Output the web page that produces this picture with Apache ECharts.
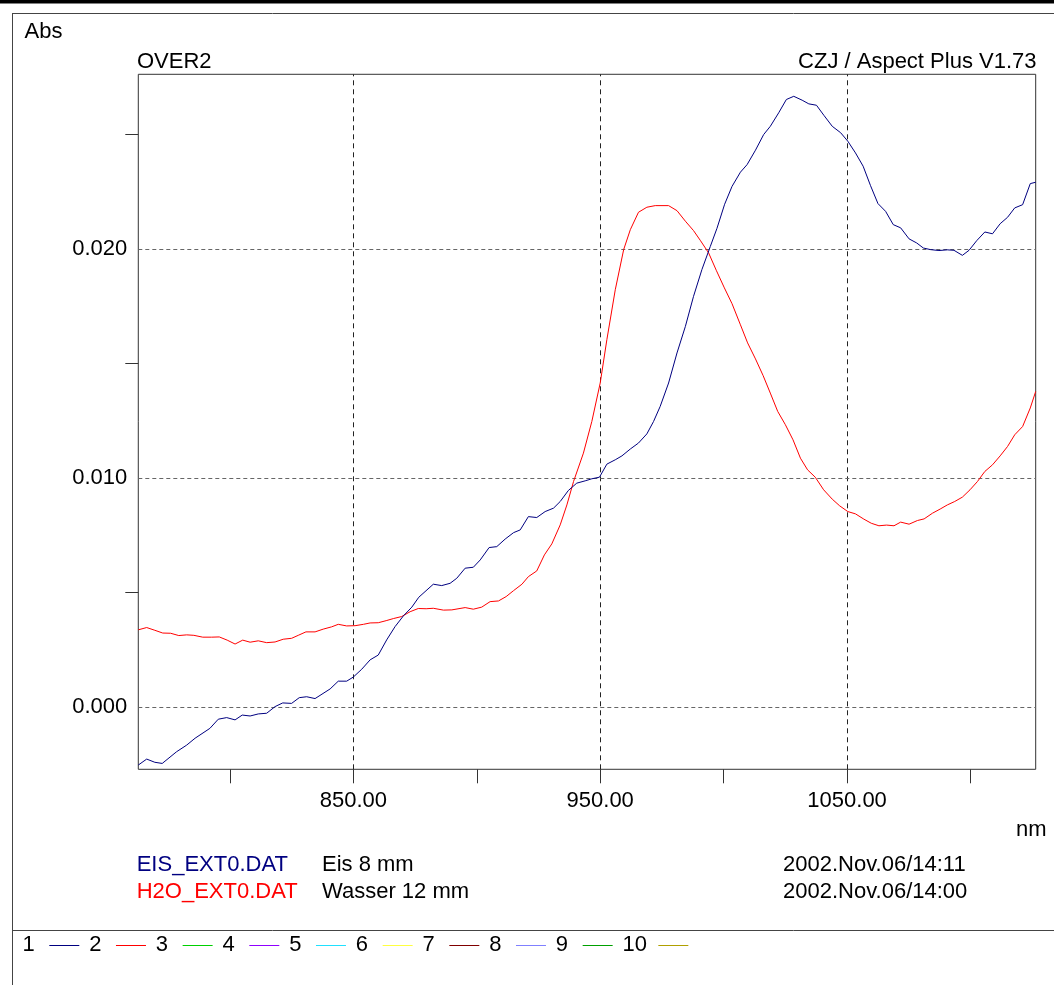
<!DOCTYPE html>
<html>
<head>
<meta charset="utf-8">
<script src="https://cdn.jsdelivr.net/npm/echarts@6/dist/echarts.min.js"></script>
<style>
html,body{margin:0;padding:0;background:#fff;}
#chart{width:1054px;height:985px;}
</style>
</head>
<body>
<div id="chart"></div>
<script>
// ---- data ----
const eisNm = [762.9,766.3,769.6,772.6,778.4,782.5,785.9,791.9,795.3,798.7,802.1,805.0,808.2,811.5,814.9,818.3,821.4,825.0,828.1,831.1,834.5,840.6,843.9,847.3,850.0,853.4,856.8,860.1,863.5,866.9,870.3,873.7,876.5,882.4,885.8,889.2,891.9,895.3,898.6,901.4,905.0,908.1,911.5,914.9,917.6,920.9,924.3,927.7,931.1,933.8,937.1,940.5,943.9,946.6,949.7,952.7,956.1,958.8,962.2,965.5,968.9,971.6,974.3,977.7,981.1,984.5,987.8,991.2,994.6,997.3,1000.4,1003.4,1006.8,1009.5,1012.9,1016.2,1018.9,1022.3,1025.4,1028.4,1031.8,1034.5,1037.6,1040.6,1044.0,1047.4,1050.3,1053.4,1056.5,1059.5,1062.5,1065.6,1068.7,1071.7,1075.1,1078.2,1080.9,1083.8,1087.2,1090.6,1093.3,1096.7,1099.4,1102.5,1105.8,1108.9,1112.0,1115.0,1117.9,1121.1,1124.2,1126.4];
const eisAbs = [-0.00252,-0.00226,-0.00240,-0.00245,-0.00194,-0.00165,-0.00135,-0.00092,-0.00052,-0.00045,-0.00055,-0.00034,-0.00038,-0.00029,-0.00026,0.00003,0.00019,0.00017,0.00042,0.00046,0.00038,0.00080,0.00114,0.00114,0.00132,0.00166,0.00207,0.00228,0.00294,0.00352,0.00399,0.00437,0.00480,0.00537,0.00531,0.00541,0.00563,0.00607,0.00611,0.00643,0.00697,0.00701,0.00734,0.00762,0.00774,0.00832,0.00828,0.00854,0.00869,0.00898,0.00946,0.00978,0.00988,0.00997,0.01004,0.01061,0.01080,0.01097,0.01127,0.01153,0.01193,0.01247,0.01313,0.01415,0.01546,0.01662,0.01793,0.01910,0.02011,0.02090,0.02195,0.02273,0.02335,0.02368,0.02431,0.02499,0.02535,0.02594,0.02652,0.02666,0.02649,0.02633,0.02627,0.02583,0.02535,0.02507,0.02470,0.02419,0.02361,0.02276,0.02198,0.02164,0.02106,0.02092,0.02044,0.02026,0.02004,0.01997,0.01993,0.01996,0.01994,0.01972,0.01994,0.02036,0.02074,0.02066,0.02110,0.02138,0.02179,0.02193,0.02285,0.02291];

const h2oNm = [762.9,766.3,769.6,772.8,776.0,779.3,782.5,785.4,789.0,792.6,795.7,798.9,802.1,805.2,808.2,811.5,814.9,818.3,821.6,825.0,827.7,830.8,834.5,837.8,841.2,843.9,847.3,850.7,854.1,856.8,860.1,863.3,866.2,869.6,873.0,876.3,879.5,882.4,886.5,889.9,895.3,898.6,902.0,905.4,908.8,911.9,914.9,918.3,920.9,924.3,927.4,930.4,933.8,936.5,939.2,943.2,946.6,950.0,952.7,956.1,959.5,962.2,965.5,968.9,972.3,977.7,981.1,984.5,987.8,990.5,993.9,997.0,1000.3,1003.4,1006.8,1009.7,1012.9,1016.0,1018.9,1021.9,1025.0,1028.1,1031.1,1034.0,1037.1,1040.5,1044.0,1047.0,1050.3,1053.4,1056.8,1059.8,1062.9,1066.0,1069.0,1071.7,1075.1,1078.5,1081.2,1084.6,1087.7,1090.6,1093.6,1096.7,1099.8,1102.8,1105.8,1108.9,1112.0,1115.0,1117.9,1121.1,1124.2,1126.4];
const h2oAbs = [0.00338,0.00348,0.00336,0.00324,0.00323,0.00313,0.00316,0.00314,0.00306,0.00306,0.00307,0.00293,0.00276,0.00293,0.00284,0.00290,0.00282,0.00285,0.00297,0.00301,0.00314,0.00329,0.00329,0.00341,0.00351,0.00362,0.00355,0.00356,0.00362,0.00368,0.00369,0.00378,0.00387,0.00396,0.00417,0.00431,0.00430,0.00432,0.00424,0.00425,0.00435,0.00428,0.00437,0.00461,0.00464,0.00483,0.00509,0.00537,0.00570,0.00595,0.00665,0.00713,0.00796,0.00883,0.00985,0.01109,0.01247,0.01415,0.01604,0.01822,0.01997,0.02084,0.02160,0.02182,0.02189,0.02189,0.02167,0.02121,0.02080,0.02038,0.01983,0.01907,0.01830,0.01761,0.01669,0.01590,0.01520,0.01447,0.01371,0.01291,0.01233,0.01167,0.01087,0.01036,0.01004,0.00949,0.00908,0.00879,0.00854,0.00844,0.00821,0.00803,0.00792,0.00795,0.00792,0.00808,0.00799,0.00815,0.00822,0.00847,0.00865,0.00883,0.00898,0.00917,0.00949,0.00985,0.01029,0.01058,0.01097,0.01138,0.01189,0.01225,0.01306,0.01378];

const xLabelTicks = [850, 950, 1050];
const xMinorTicks = [800, 850, 900, 950, 1000, 1050, 1100];
const yLabelTicks = [0, 0.01, 0.02];
const yMinorTicks = [0.005, 0.015, 0.025];
const xRange = [762.9, 1126.4];
const yRange = [-0.002706, 0.02762];

const fileNames = ['EIS_EXT0.DAT', 'H2O_EXT0.DAT'];
const descriptions = ['Eis 8 mm', 'Wasser 12 mm'];
const dates = ['2002.Nov.06/14:11', '2002.Nov.06/14:00'];
const seriesColors = ['#000080', '#ff0000'];
const slotLabels = ['1','2','3','4','5','6','7','8','9','10'];
const slotColors = ['#000080','#ff0000','#00d000','#9000ff','#20e0ff','#ffff40','#800000','#8080ff','#00a000','#b0a000'];

// ---- chart ----
const FONT = '"Liberation Sans", Arial, sans-serif';
const FS = 22;
const chart = echarts.init(document.getElementById('chart'), null, {renderer: 'canvas'});

function txt(text, x, y, align, color) {
  return {type: 'text', x: 0, y: 0, silent: true, z: 10,
    style: {text: text, x: x, y: y, fill: color || '#000', font: FS + 'px ' + FONT,
      textAlign: align || 'left', textVerticalAlign: 'middle'}};
}
function hline(x1, x2, y, color, w) {
  return {type: 'line', silent: true, shape: {x1: x1, y1: y, x2: x2, y2: y}, style: {stroke: color, lineWidth: w || 1}};
}

const graphics = [
  {type: 'rect', silent: true, shape: {x: 0, y: 0, width: 1054, height: 3.5}, style: {fill: '#000'}},
  hline(12, 1054, 13.5, '#444', 1),
  {type: 'line', silent: true, shape: {x1: 12.5, y1: 13, x2: 12.5, y2: 985}, style: {stroke: '#444', lineWidth: 1}},
  hline(12, 1054, 930.5, '#444', 1),
  txt('Abs', 24.5, 32, 'left'),
  txt('OVER2', 137, 61.5, 'left'),
  txt('CZJ / Aspect Plus V1.73', 1036.5, 61.5, 'right'),
  txt('nm', 1046.5, 830, 'right')
];
for (let i = 0; i < fileNames.length; i++) {
  const y = 864.5 + i * 27.3;
  graphics.push(txt(fileNames[i], 136.7, y, 'left', seriesColors[i]));
  graphics.push(txt(descriptions[i], 322, y, 'left'));
  graphics.push(txt(dates[i], 783, y, 'left'));
}
for (let i = 0; i < slotLabels.length; i++) {
  const x0 = 22.5 + 66.67 * i;
  const lx = x0 + 26.8 + (slotLabels[i].length - 1) * 9;
  graphics.push(txt(slotLabels[i], x0, 945, 'left'));
  graphics.push(hline(lx, lx + 30, 945.5, slotColors[i], 1));
}

const gridLines = [];
xLabelTicks.forEach(v => gridLines.push({xAxis: v, lineStyle: {color: '#222', type: [5, 4], width: 1}}));
yLabelTicks.forEach(v => gridLines.push({yAxis: v, lineStyle: {color: '#666', type: [4, 3], width: 1}}));

const option = {
  animation: false,
  backgroundColor: '#fff',
  grid: {left: 138.3, right: 18.3, top: 74.3, bottom: 215.7, show: true, borderColor: '#333', borderWidth: 1, backgroundColor: 'transparent'},
  xAxis: {
    type: 'value', min: xRange[0], max: xRange[1], position: 'bottom',
    axisLine: {show: false, onZero: false},
    splitLine: {show: false},
    axisTick: {show: true, inside: false, length: 14, customValues: xMinorTicks, lineStyle: {color: '#333', width: 1}},
    axisLabel: {customValues: xLabelTicks, margin: 21, color: '#000', fontSize: FS, fontFamily: FONT,
      formatter: v => v.toFixed(2)}
  },
  yAxis: {
    type: 'value', min: yRange[0], max: yRange[1], position: 'left',
    axisLine: {show: false, onZero: false},
    splitLine: {show: false},
    axisTick: {show: true, inside: false, length: 13, customValues: yMinorTicks, lineStyle: {color: '#333', width: 1}},
    axisLabel: {customValues: yLabelTicks, margin: 11, color: '#000', fontSize: FS, fontFamily: FONT,
      formatter: v => v.toFixed(3)}
  },
  series: [
    {name: fileNames[1], type: 'line', data: h2oNm.map((x, i) => [x, h2oAbs[i]]), showSymbol: false, symbol: 'none',
      lineStyle: {color: seriesColors[1], width: 1}, z: 3,
      markLine: {silent: true, symbol: ['none', 'none'], label: {show: false}, data: gridLines, animation: false, z: 1}},
    {name: fileNames[0], type: 'line', data: eisNm.map((x, i) => [x, eisAbs[i]]), showSymbol: false, symbol: 'none',
      lineStyle: {color: seriesColors[0], width: 1}, z: 4}
  ],
  graphic: graphics
};
chart.setOption(option);
</script>
</body>
</html>
